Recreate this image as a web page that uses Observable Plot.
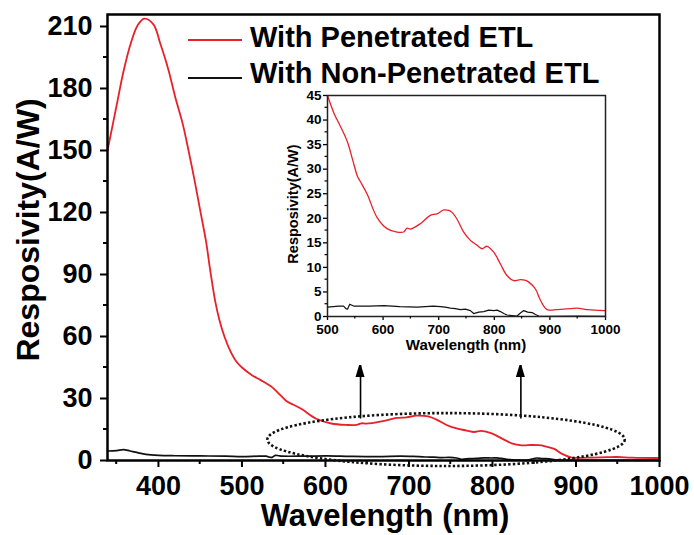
<!DOCTYPE html>
<html><head><meta charset="utf-8">
<script src="https://cdn.jsdelivr.net/npm/d3@7"></script>
<script src="https://cdn.jsdelivr.net/npm/@observablehq/plot@0.6"></script>
<style>
body{margin:0;background:#fff}
#wrap{position:relative;width:694px;height:535px;overflow:hidden;background:#fff}
#inset{position:absolute;left:280px;top:85px}
</style>
</head><body><div id="wrap"><div id="main"></div><div id="inset"></div></div>
<script>
// ---- data ----
const seriesNames = ["With Penetrated ETL", "With Non-Penetrated ETL"];
const seriesColors = ["#e8202a", "#111111"];

const redX = [339,346,351,358,367,375,383,394,402,412,420,429,436,444,450,457,462,468,473,479,486,493,500,512,522,536,545,554,559,571,589,607,625,637,643,649,667,685,697,709,718,724,733,745,757,769,778,787,799,811,823,835,847,855,862,874,883,895,913,937,949,967,997,1000];
const redY = [150,164,174,188,202,210.5,213.8,211,202,189,176,163,150,134,121,106,92,77,68,60,53,48,45,41.3,39,35.5,32,28.5,27.5,25,20.2,17.9,17.2,17.2,18,17.8,18.9,20.6,20.9,21.7,21.6,21.2,19.8,17.2,15.5,14.5,13.8,14.3,13.1,10.7,8.3,7.3,7.5,7.4,7.0,5.6,3.3,1.4,1.4,1.6,1.7,1.4,1.2,1.2];

const blackX = [339,350,358,366,375,385,400,420,450,480,500,520,529,533,536,540,544,548,575,602,630,662,690,703,712,721,730,739,748,757,763,772,781,790,799,805,811,817,823,832,841,847,853,860,868,874,880,900,950,1000];
const blackY = [4.6,4.8,5.3,4.6,3.8,3.0,2.5,2.3,2.2,2.1,1.9,2.1,2.1,1.6,1.5,2.5,2.3,2.1,2.1,2.2,2.0,1.9,2.1,2.0,1.9,1.7,1.6,1.4,1.5,1.2,0.6,0.9,1.0,1.3,1.2,1.3,1.0,0.6,0.3,0.2,0.1,0.7,1.2,0.9,0.8,0.4,0.1,0.05,0.1,0.05];

// main axes
const xDomain = [339, 1000];
const yDomain = [0, 215.8];
const xTicks = [400,500,600,700,800,900,1000];
const xMinor = [350,450,550,650,750,850,950];
const yTicks = [0,30,60,90,120,150,180,210];
const yMinor = [15,45,75,105,135,165,195];

// inset axes
const insetXDomain = [500, 1000];
const insetYDomain = [0, 45];
const insetXTicks = [500,600,700,800,900,1000];
const insetXMinor = [550,650,750,850,950];
const insetYTicks = [0,5,10,15,20,25,30,35,40,45];
const insetYMinor = [2.5,7.5,12.5,17.5,22.5,27.5,32.5,37.5,42.5];

// annotations: dotted ellipse and two arrows
const ellipseCenter = [745, 9.9];
const ellipseRadii = [214, 12.8];
const arrowX = [642, 834];
const arrowFrom = [20.3, 20.3];
const arrowTo = [47.4, 47.4];

const xLabel = "Wavelength (nm)";
const yLabel = "Resposivity(A/W)";

// ---- build tables ----
const red = redX.map((x, i) => ({x, y: redY[i]}));
const black = blackX.map((x, i) => ({x, y: blackY[i]}));
const arrows = arrowX.map((x, i) => ({x, y1: arrowFrom[i], y2: arrowTo[i]}));
const FONT = "'Liberation Sans', Arial, sans-serif";

function addMinor(svg, plot, xm, ym, len, w) {
  const sx = plot.scale("x"), sy = plot.scale("y");
  const y0 = sy.range[0], x0 = sx.range[0];
  const g = svg.append("g").attr("stroke", "black").attr("stroke-width", w);
  xm.forEach(v => g.append("line").attr("x1", sx.apply(v)).attr("x2", sx.apply(v)).attr("y1", y0).attr("y2", y0 + len));
  ym.forEach(v => g.append("line").attr("y1", sy.apply(v)).attr("y2", sy.apply(v)).attr("x1", x0).attr("x2", x0 - len));
}
function thickTicks(svg, w) {
  svg.selectAll('g[aria-label*="axis"] line, g[aria-label*="axis"] path').attr("stroke-width", w).attr("stroke", "black");
}

// ---- main chart ----
const main = Plot.plot({
  width: 694, height: 535,
  marginLeft: 107, marginRight: 35, marginTop: 14, marginBottom: 75,
  x: {domain: xDomain, ticks: xTicks, tickSize: 7, tickPadding: 8, tickFormat: d3.format("d"), label: null},
  y: {domain: yDomain, ticks: yTicks, tickSize: 7, tickPadding: 8, tickFormat: d3.format("d"), label: null},
  style: {fontFamily: FONT, fontSize: "27px", fontWeight: "bold", color: "black", background: "white", overflow: "visible"},
  marks: [
    Plot.line(black, {x: "x", y: "y", stroke: seriesColors[1], strokeWidth: 1.7, curve: "catmull-rom"}),
    Plot.line(red, {x: "x", y: "y", stroke: seriesColors[0], strokeWidth: 1.8, curve: "catmull-rom"}),
    Plot.link(arrows, {x1: "x", x2: "x", y1: "y1", y2: "y2", stroke: "black", strokeWidth: 1.6}),
    Plot.frame({stroke: "black", strokeWidth: 2.5})
  ]
});
document.getElementById("main").appendChild(main);
{
  const svg = d3.select(main);
  thickTicks(svg, 2);
  addMinor(svg, main, xMinor, yMinor, 4, 2);
  const sx = main.scale("x"), sy = main.scale("y");
  // ellipse
  const cx = sx.apply(ellipseCenter[0]), cy = sy.apply(ellipseCenter[1]);
  svg.append("ellipse").attr("cx", cx).attr("cy", cy)
    .attr("rx", sx.apply(ellipseCenter[0] + ellipseRadii[0]) - cx)
    .attr("ry", cy - sy.apply(ellipseCenter[1] + ellipseRadii[1]))
    .attr("fill", "none").attr("stroke", "#111").attr("stroke-width", 2.6).attr("stroke-dasharray", "2.4 2.2");
  // arrow heads
  arrows.forEach(a => {
    const px = sx.apply(a.x), py = sy.apply(a.y2);
    svg.append("path").attr("d", `M${px},${py}L${px-4.5},${py+15}L${px+4.5},${py+15}Z`).attr("fill", "black");
  });
  // axis titles
  svg.append("text").attr("x", 385).attr("y", 526).attr("text-anchor", "middle")
    .style("font-family", FONT).style("font-weight", "bold").style("font-size", "31px").text(xLabel);
  svg.append("text").attr("transform", "translate(39,230) rotate(-90)").attr("text-anchor", "middle")
    .style("font-family", FONT).style("font-weight", "bold").style("font-size", "32px").text(yLabel);
  // legend
  const legY = [40, 78], legText = [47, 83];
  seriesNames.forEach((n, i) => {
    svg.append("line").attr("x1", 188).attr("x2", 242).attr("y1", legY[i]).attr("y2", legY[i])
      .attr("stroke", seriesColors[i]).attr("stroke-width", 1.8);
    svg.append("text").attr("x", 250).attr("y", legText[i]).attr("text-anchor", "start")
      .style("font-family", FONT).style("font-weight", "bold").style("font-size", "29px").text(n);
  });
}

// ---- inset ----
const inset = Plot.plot({
  width: 340, height: 280,
  marginLeft: 47, marginRight: 15, marginTop: 10, marginBottom: 49,
  x: {domain: insetXDomain, ticks: insetXTicks, tickSize: 4, tickPadding: 4, tickFormat: d3.format("d"), label: null},
  y: {domain: insetYDomain, ticks: insetYTicks, tickSize: 4, tickPadding: 2, tickFormat: d3.format("d"), label: null},
  style: {fontFamily: FONT, fontSize: "13.5px", fontWeight: "bold", color: "black", background: "white", overflow: "visible"},
  marks: [
    Plot.line(black.filter(d => d.x >= 500), {x: "x", y: "y", stroke: seriesColors[1], strokeWidth: 1.2}),
    Plot.line(red.filter(d => d.x >= 500), {x: "x", y: "y", stroke: seriesColors[0], strokeWidth: 1.3, curve: "catmull-rom"}),
    Plot.frame({stroke: "#222", strokeWidth: 1.5})
  ]
});
document.getElementById("inset").appendChild(inset);
{
  const svg = d3.select(inset);
  thickTicks(svg, 1.3);
  addMinor(svg, inset, insetXMinor, insetYMinor, 2.5, 1.2);
  svg.append("text").attr("x", 186).attr("y", 265).attr("text-anchor", "middle")
    .style("font-family", FONT).style("font-weight", "bold").style("font-size", "15px").text(xLabel);
  svg.append("text").attr("transform", "translate(18,119) rotate(-90)").attr("text-anchor", "middle")
    .style("font-family", FONT).style("font-weight", "bold").style("font-size", "14.5px").text(yLabel);
}
</script></body></html>
